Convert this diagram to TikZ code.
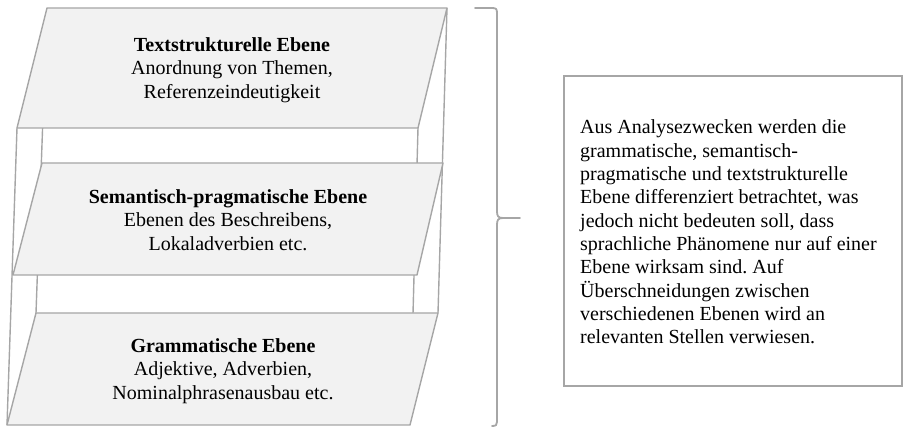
\documentclass[tikz,border=0pt]{standalone}
\usepackage{fontspec}
\setmainfont{Liberation Serif}
\frenchspacing
\definecolor{edgegray}{HTML}{A6A6A6}
\definecolor{platefill}{HTML}{F2F2F2}
\tikzset{
  edge/.style={draw=edgegray, line width=1.4pt},
  plate/.style={draw=edgegray, fill=platefill, line width=1.4pt, line join=round},
  platetext/.style={align=center, inner sep=0pt, font=\fontsize{20}{23.3}\selectfont},
  notetext/.style={align=left, inner sep=0pt, anchor=west, font=\fontsize{20}{23.3}\selectfont},
}
\begin{document}
\begin{tikzpicture}[x=1pt,y=-1pt]
\useasboundingbox (0,0) rectangle (903,427);
% vertical edges behind plates
\draw[edge] (17,128) -- (7,425);
\draw[edge] (45,60) -- (36,313);
\draw[edge] (418,128) -- (410,425);
\draw[edge] (447,8) -- (438,313);
% plates
\draw[plate] (36,313) -- (438,313) -- (410,425) -- (7,425) -- cycle;
\draw[plate] (42,163) -- (443,163) -- (417,275) -- (13,275) -- cycle;
\draw[plate] (47,8) -- (447,8) -- (418,128) -- (17,128) -- cycle;
% plate texts
\node[platetext] (t1) at (232,70) {\textbf{Textstrukturelle Ebene}\\Anordnung von Themen,\\Referenzeindeutigkeit};
\node[platetext] (t2) at (228,220) {\textbf{Semantisch-pragmatische Ebene}\\Ebenen des Beschreibens,\\Lokaladverbien etc.};
\node[platetext] (t3) at (223,371) {\textbf{Grammatische Ebene}\\Adjektive, Adverbien,\\Nominalphrasenausbau etc.};
% brace
\draw[edgegray, line width=1.8pt, line cap=round] (475,8) -- (492,8) .. controls (496,8) and (497,9) .. (497,13) -- (497,211) .. controls (497,216) and (498,218) .. (503,218) -- (520,218);
\draw[edgegray, line width=1.8pt, line cap=round] (503,218) .. controls (498,218) and (497,220) .. (497,225) -- (497,422) .. controls (497,425) and (496,426) .. (492,426);
% note box
\draw[edgegray, line width=1.6pt] (564,76) rectangle (902,386);
\node[notetext] (note) at (580,232) {Aus Analysezwecken werden die\\grammatische, semantisch-\\pragmatische und textstrukturelle\\Ebene differenziert betrachtet, was\\jedoch nicht bedeuten soll, dass\\sprachliche Phänomene nur auf einer\\Ebene wirksam sind. Auf\\Überschneidungen zwischen\\verschiedenen Ebenen wird an\\relevanten Stellen verwiesen.};
\end{tikzpicture}
\end{document}
